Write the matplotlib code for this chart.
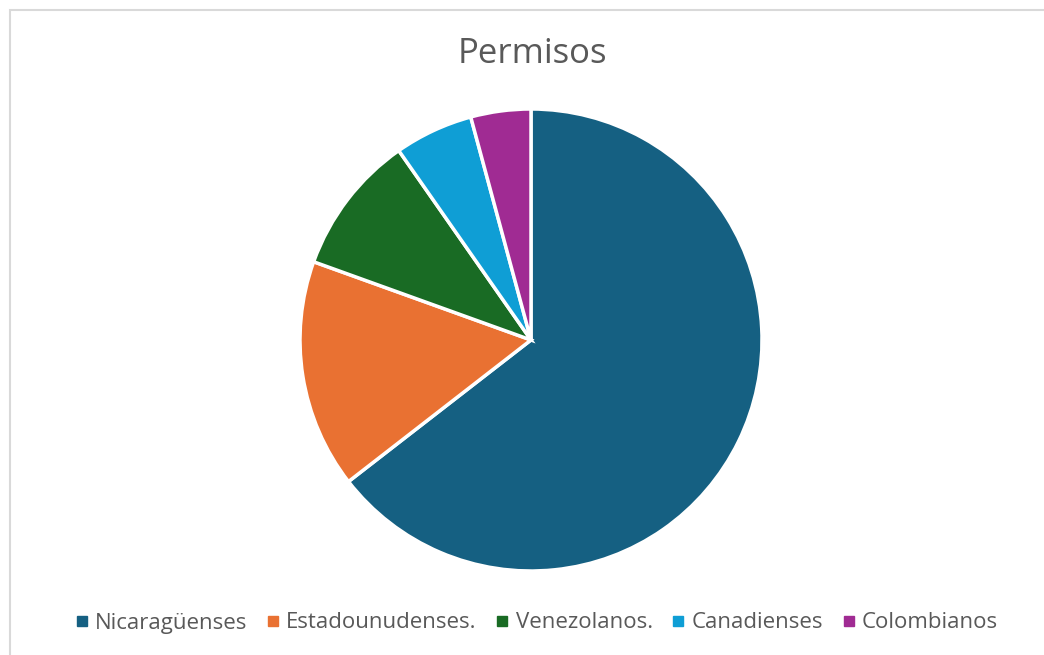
import matplotlib
matplotlib.use("Agg")
import matplotlib.pyplot as plt
from matplotlib.patches import Rectangle
from matplotlib.lines import Line2D

categories = ["Nicaragüenses", "Estadounudenses.", "Venezolanos.", "Canadienses", "Colombianos"]
values = [64.5, 16.0, 9.8, 5.5, 4.2]
colors = ["#156082", "#E97132", "#196B24", "#0F9ED5", "#A02B93"]
title = "Permisos"

plt.rcParams['font.family'] = ['Open Sans', 'DejaVu Sans']

W, H = 1044, 655
fig = plt.figure(figsize=(W / 100, H / 100), dpi=100)
fig.patch.set_facecolor("white")

# border
fig.add_artist(Rectangle((10 / W, -0.1), 1.2, (H - 10) / H + 0.1, transform=fig.transFigure,
                         fill=False, edgecolor="#D9D9D9", linewidth=1.5))

cx, cy, r = 531, 340, 231
ax = fig.add_axes([(cx - r) / W, 1 - (cy + r) / H, 2 * r / W, 2 * r / H])
ax.pie(values, colors=colors, startangle=90, counterclock=False,
       wedgeprops=dict(edgecolor="white", linewidth=2.5))
ax.set_aspect("equal")
ax.set_xlim(-1, 1)
ax.set_ylim(-1, 1)
ax.axis("off")

fig.text(532 / W, 1 - 54 / H, title, ha="center", va="center", fontsize=25, color="#595959")

handles = [Line2D([], [], marker="s", linestyle="none", markersize=7.5, markerfacecolor=c,
                  markeredgecolor=c) for c in colors]
fig.legend(handles, categories, loc="center", bbox_to_anchor=(537 / W, 1 - 623 / H),
           ncol=5, frameon=False, fontsize=16, labelcolor="#595959",
           handlelength=0.5, handletextpad=0.35, columnspacing=0.9)

fig.savefig("out.png", dpi=100, facecolor="white")
